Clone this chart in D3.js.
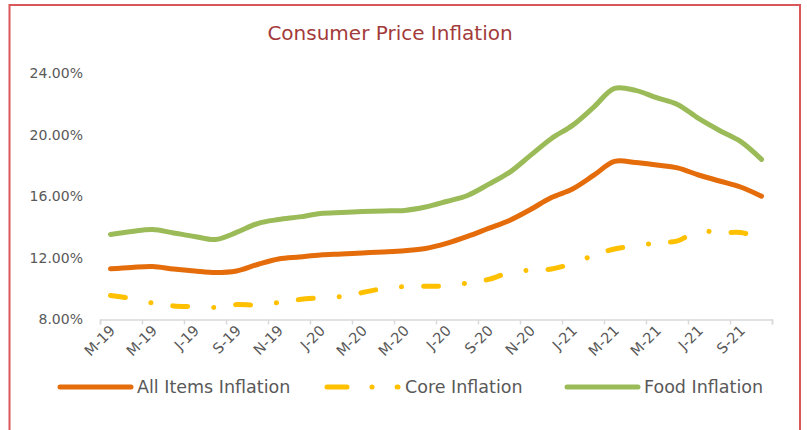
<!DOCTYPE html>
<html>
<head>
<meta charset="utf-8">
<script src="https://cdn.jsdelivr.net/npm/d3@7"></script>
<style>
  body { margin: 0; background: #fff; }
  svg text { font-family: "Century Gothic", "DejaVu Sans", sans-serif; }
</style>
</head>
<body>
<div id="chart"></div>
<script>
'use strict';

// Monthly data, Mar 2019 - Oct 2021 (values in %)
const months = ['Mar-19', 'Apr-19', 'May-19', 'Jun-19', 'Jul-19', 'Aug-19', 'Sep-19', 'Oct-19',
  'Nov-19', 'Dec-19', 'Jan-20', 'Feb-20', 'Mar-20', 'Apr-20', 'May-20', 'Jun-20',
  'Jul-20', 'Aug-20', 'Sep-20', 'Oct-20', 'Nov-20', 'Dec-20', 'Jan-21', 'Feb-21',
  'Mar-21', 'Apr-21', 'May-21', 'Jun-21', 'Jul-21', 'Aug-21', 'Sep-21', 'Oct-21'];

const allItems = [11.29, 11.38, 11.44, 11.28, 11.15, 11.05, 11.15, 11.57,
  11.93, 12.06, 12.19, 12.25, 12.32, 12.38, 12.46, 12.61,
  12.94, 13.39, 13.91, 14.43, 15.14, 15.92, 16.47, 17.35,
  18.26, 18.19, 18.03, 17.84, 17.38, 16.99, 16.60, 16.00];

const coreInflation = [9.56, 9.36, 9.07, 8.88, 8.84, 8.78, 8.97, 8.94,
  9.10, 9.30, 9.41, 9.49, 9.75, 10.01, 10.14, 10.16,
  10.18, 10.37, 10.60, 11.05, 11.21, 11.28, 11.64, 12.16,
  12.58, 12.77, 12.97, 13.10, 13.75, 13.62, 13.65, 13.28];

const foodInflation = [13.52, 13.71, 13.84, 13.62, 13.39, 13.19, 13.65, 14.23,
  14.49, 14.66, 14.88, 14.95, 15.01, 15.05, 15.08, 15.30,
  15.66, 16.05, 16.77, 17.55, 18.65, 19.75, 20.60, 21.77,
  23.00, 22.87, 22.40, 21.96, 21.05, 20.27, 19.56, 18.39];

// One label for every two months
const tickLabels = ['M-19', 'M-19', 'J-19', 'S-19', 'N-19', 'J-20', 'M-20', 'M-20',
  'J-20', 'S-20', 'N-20', 'J-21', 'M-21', 'M-21', 'J-21', 'S-21'];

const yTicks = [8, 12, 16, 20, 24];

const series = [
  { name: 'All Items Inflation', values: allItems, color: '#E46C0A', dash: null },
  { name: 'Core Inflation', values: coreInflation, color: '#FFC000', dash: '15,26,0.1,22' },
  { name: 'Food Inflation', values: foodInflation, color: '#9BBB59', dash: null }
];

const width = 807;
const height = 430;

const svg = d3.select('#chart').append('svg')
  .attr('width', width)
  .attr('height', height);

// Chart frame (red border, bottom edge falls outside the picture)
svg.append('path')
  .attr('d', 'M9.5,434 L9.5,5 L800,5 L800,434')
  .attr('fill', 'none')
  .attr('stroke', '#D9575A')
  .attr('stroke-width', 2);

// Title
svg.append('text')
  .attr('x', 390)
  .attr('y', 40)
  .attr('text-anchor', 'middle')
  .attr('fill', '#A33B3B')
  .style('font-size', '20px')
  .text('Consumer Price Inflation');

// Scales
const x = d3.scaleLinear().domain([0, months.length]).range([100, 772]);
const y = d3.scaleLinear().domain([8, 24]).range([319.5, 73]);

// Y axis labels only (no axis line, no gridlines)
svg.append('g')
  .selectAll('text')
  .data(yTicks)
  .enter().append('text')
  .attr('x', 83)
  .attr('y', d => y(d))
  .attr('dy', '0.35em')
  .attr('text-anchor', 'end')
  .attr('fill', '#595959')
  .style('font-size', '14px')
  .text(d => d3.format('.2f')(d) + '%');

// X axis: line with a tick every two months
const xAxis = svg.append('g')
  .attr('transform', `translate(0, ${y(8)})`)
  .call(d3.axisBottom(x)
    .tickValues(d3.range(0, months.length + 1, 2))
    .tickSize(5)
    .tickFormat(''));
xAxis.select('.domain').attr('stroke', '#D9D9D9').attr('stroke-width', 1.5);
xAxis.selectAll('.tick line').attr('stroke', '#D9D9D9').attr('stroke-width', 1.5);

// Rotated category labels, centred between tick marks
svg.append('g')
  .selectAll('text')
  .data(tickLabels)
  .enter().append('text')
  .attr('transform', (d, i) => `translate(${x(i * 2 + 1) - 5}, ${y(8) + 12}) rotate(-45)`)
  .attr('text-anchor', 'end')
  .attr('fill', '#595959')
  .style('font-size', '14.5px')
  .text(d => d);

// Lines
const line = d3.line()
  .curve(d3.curveCatmullRom.alpha(0.5))
  .x((d, i) => x(i + 0.5))
  .y(d => y(d));

series.forEach(s => {
  svg.append('path')
    .datum(s.values)
    .attr('fill', 'none')
    .attr('stroke', s.color)
    .attr('stroke-width', 5)
    .attr('stroke-linecap', 'round')
    .attr('stroke-linejoin', 'round')
    .attr('stroke-dasharray', s.dash)
    .attr('d', line);
});

// Legend
const legendX = [60, 327, 567];
const legend = svg.selectAll('.legend')
  .data(series)
  .enter().append('g')
  .attr('class', 'legend')
  .attr('transform', (d, i) => `translate(${legendX[i]}, 387)`);

legend.append('line')
  .attr('x1', 0)
  .attr('x2', 71)
  .attr('stroke', d => d.color)
  .attr('stroke-width', 5)
  .attr('stroke-linecap', 'round')
  .attr('stroke-dasharray', (d, i) => i === 1 ? '20,25,0.1,25' : null);

legend.append('text')
  .attr('x', (d, i) => i === 1 ? 78 : 77)
  .attr('dy', '0.35em')
  .attr('fill', '#595959')
  .style('font-size', '17.5px')
  .text(d => d.name);
</script>
</body>
</html>
